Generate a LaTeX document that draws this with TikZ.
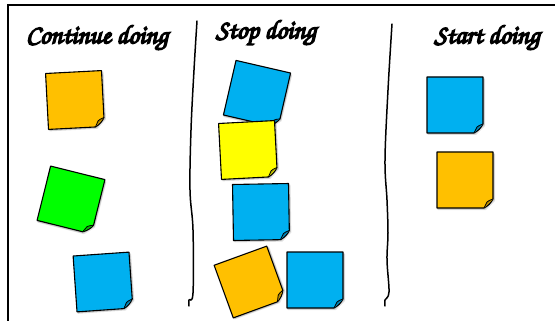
\documentclass[tikz,border=0pt]{standalone}
\usetikzlibrary{calc}
\definecolor{pOrange}{HTML}{FFC000}
\definecolor{pGreen}{HTML}{00FF00}
\definecolor{pBlue}{HTML}{00B0F0}
\definecolor{pYellow}{HTML}{FFFF00}
\newcommand{\fakebold}[1]{\special{pdf:literal direct 2 Tr 1.4 w}#1\special{pdf:literal direct 0 Tr}}
\tikzset{
  titlefont/.style={font=\fontencoding{OT1}\fontfamily{pzc}\fontseries{mb}\fontshape{it}\fontsize{26.5}{30}\selectfont, inner sep=0pt},
  titletext/.style={titlefont, text=black},
  frameline/.style={line width=1.8pt},
  divider/.style={line width=1.5pt, line cap=round, line join=round},
  noteline/.style={line width=1.1pt, line join=round},
  pics/note/.style={code={
    \fill[black, opacity=0.10] (-27,-26) -- (30,-26) -- (30,21) -- (21,30) -- (-27,30) -- cycle;
    \fill[black, opacity=0.12] (-28,-27) -- (29.5,-27) -- (29.5,20) -- (20,29.5) -- (-28,29.5) -- cycle;
    \filldraw[noteline, fill=#1] (-28,-28) -- (28,-28) -- (28,19)
        .. controls (26,23) and (23,26) .. (19,28) -- (-28,28) -- cycle;
    \filldraw[line width=0.8pt, line join=round, fill=#1!70!black] (28,19)
        .. controls (25,20) and (23,21) .. (22,22) .. controls (21,24) and (20,26) .. (19,28);
  }}
}
\begin{document}
\begin{tikzpicture}[x=1pt, y=-1pt]
  \useasboundingbox (0,0) rectangle (555,321);
  \clip (0,0) rectangle (555,321);
  \fill[white] (0,0) rectangle (555,321);
  % frame
  \draw[frameline] (8,321) -- (8,5) -- (556,5);
  % dividers
  \draw[divider] plot[smooth, tension=0.6] coordinates {(197,21) (194,70) (191,130) (190,190) (193,230) (193,293) (189,300) (189,306)};
  \draw[divider] plot[smooth, tension=0.6] coordinates {(392,24) (388,90) (385,160) (387,200) (388,233) (387,260) (389,292) (385,300) (385,306)};
  % titles
  \node[titletext] (t1) at (97,38) {\fakebold{Continue doing}};
  \node[titletext] (t2) at (266,33) {\fakebold{Stop doing}};
  \node[titletext] (t3) at (487,38) {\fakebold{Start doing}};
  % notes: continue
  \pic[rotate=3] (n1) at (75,100) {note=pOrange};
  \pic[rotate=-14] (n2) at (71,200) {note=pGreen};
  \pic[rotate=4] (n3) at (103,282) {note=pBlue};
  % notes: stop
  \pic[rotate=-13] (n4) at (257,94) {note=pBlue};
  \pic[rotate=3] (n5) at (248,150) {note=pYellow};
  \pic[rotate=1] (n6) at (261,212) {note=pBlue};
  \pic[rotate=20] (n7) at (250,282) {note=pOrange};
  \pic (n8) at (315,280) {note=pBlue};
  % notes: start
  \pic (n9) at (455,105) {note=pBlue};
  \pic (n10) at (465,180) {note=pOrange};
\end{tikzpicture}
\end{document}
